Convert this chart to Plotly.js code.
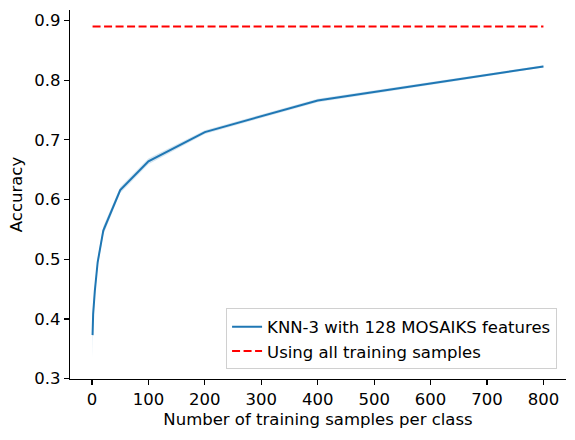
<!DOCTYPE html>
<html>
<head>
<meta charset="utf-8">
<script src="https://cdn.plot.ly/plotly-3.0.1.min.js"></script>
<style>html,body{margin:0;padding:0;background:#fff;}#chart{width:575px;height:440px;}</style>
</head>
<body>
<div id="chart"></div>
<script>
const samplesPerClass = [1, 2, 5, 10, 20, 50, 100, 200, 400, 800];
const accuracyMean   = [0.373, 0.408, 0.447, 0.495, 0.548, 0.616, 0.664, 0.713, 0.766, 0.823];
const accuracyLower  = [0.333, 0.390, 0.438, 0.488, 0.541, 0.611, 0.659, 0.710, 0.763, 0.821];
const accuracyUpper  = [0.413, 0.426, 0.456, 0.502, 0.555, 0.621, 0.669, 0.716, 0.769, 0.825];
const fullTrainingX = [1, 800];
const fullTrainingAccuracy = [0.89, 0.89];
const seriesNames = ["KNN-3 with 128 MOSAIKS features", "Using all training samples"];
const xTicks = [0, 100, 200, 300, 400, 500, 600, 700, 800];
const yTicks = [0.3, 0.4, 0.5, 0.6, 0.7, 0.8, 0.9];

const FONT = "DejaVu Sans, sans-serif";
const FS = 16.5;

const traces = [
  {x: samplesPerClass, y: accuracyLower, mode: "lines", line: {width: 0, color: "rgba(31,119,180,0)"},
   showlegend: false, hoverinfo: "skip"},
  {x: samplesPerClass, y: accuracyUpper, mode: "lines", line: {width: 0, color: "rgba(31,119,180,0)"},
   fill: "tonexty", fillcolor: "rgba(31,119,180,0.2)", showlegend: false, hoverinfo: "skip"},
  {x: samplesPerClass, y: accuracyMean, mode: "lines", name: seriesNames[0],
   line: {color: "#1f77b4", width: 2}},
  {x: fullTrainingX, y: fullTrainingAccuracy, mode: "lines", name: seriesNames[1],
   line: {color: "#ff0000", width: 2, dash: "8px,3.5px"}}
];

const layout = {
  width: 575, height: 440,
  margin: {l: 70, r: 9, t: 9.5, b: 60.5},
  paper_bgcolor: "#ffffff", plot_bgcolor: "#ffffff",
  font: {family: FONT, size: FS, color: "#000000"},
  showlegend: true,
  xaxis: {
    range: [-39, 840], tickvals: xTicks, ticktext: xTicks.map(String),
    showline: true, linecolor: "#000000", linewidth: 1.1, mirror: false,
    ticks: "outside", ticklen: 5, tickwidth: 1.1, tickcolor: "#000000",
    showgrid: false, zeroline: false,
    tickfont: {family: FONT, size: FS, color: "#000000"},
    title: {text: "Number of training samples per class", font: {family: FONT, size: FS, color: "#000000"}, standoff: 5},
    automargin: false
  },
  yaxis: {
    range: [0.2995, 0.9175], tickvals: yTicks, ticktext: yTicks.map(v => v.toFixed(1)),
    showline: true, linecolor: "#000000", linewidth: 1.1, mirror: false,
    ticks: "outside", ticklen: 5, tickwidth: 1.1, tickcolor: "#000000",
    showgrid: false, zeroline: false,
    tickfont: {family: FONT, size: FS, color: "#000000"},
    title: {text: "Accuracy", font: {family: FONT, size: FS, color: "#000000"}, standoff: 7},
    automargin: false
  },
  legend: {
    x: 0.982, xanchor: "right", y: 0.026, yanchor: "bottom",
    traceorder: "normal",
    bgcolor: "rgba(255,255,255,0.8)", bordercolor: "#d0d0d0", borderwidth: 1,
    font: {family: FONT, size: FS, color: "#000000"},
    itemwidth: 30, tracegroupgap: 0
  }
};

Plotly.newPlot("chart", traces, layout, {staticPlot: true, displayModeBar: false});
</script>
</body>
</html>
